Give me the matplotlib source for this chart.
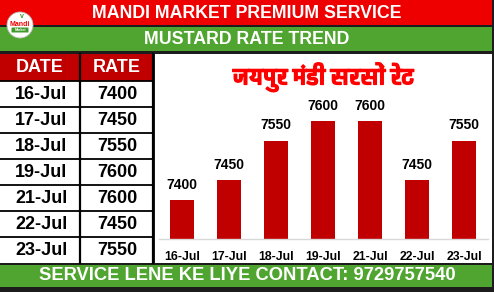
import matplotlib
matplotlib.use('Agg')
import matplotlib.pyplot as plt
from matplotlib import font_manager, ft2font
from matplotlib import patheffects
from matplotlib.patches import Rectangle, Circle, FancyBboxPatch

# data
dates = ['16-Jul', '17-Jul', '18-Jul', '19-Jul', '21-Jul', '22-Jul', '23-Jul']
rates = [7400, 7450, 7550, 7600, 7600, 7450, 7550]
title_top = 'MANDI MARKET PREMIUM SERVICE'
title_sub = 'MUSTARD RATE TREND'
chart_title = 'जयपुर मंडी सरसों रेट'
footer = 'SERVICE LENE KE LIYE CONTACT: 9729757540'

RED = '#EE0000'
DARK_RED = '#C00000'
GREEN = '#4FA52F'
W, H = 494, 292


def find_font(ch):
    # installed font with a glyph for ch, bold ones first
    found = []
    for f in font_manager.fontManager.ttflist:
        try:
            if ord(ch) in ft2font.FT2Font(f.fname).get_charmap():
                found.append(f)
        except Exception:
            pass
    if not found:
        return 'DejaVu Sans'
    found.sort(key=lambda f: -font_manager.weight_dict.get(f.weight, f.weight)
               if not isinstance(f.weight, int) else -f.weight)
    return found[0].name


hindi_font = find_font('ज')
plt.rcParams['font.family'] = ['Liberation Sans', 'DejaVu Sans']

fig = plt.figure(figsize=(W / 100, H / 100), dpi=100, facecolor='#1c1c1c')

# overlay in pixel coordinates
ov = fig.add_axes([0, 0, 1, 1], zorder=0)
ov.set_xlim(0, W)
ov.set_ylim(H, 0)
ov.axis('off')


def box(x0, y0, x1, y1, color):
    ov.add_patch(Rectangle((x0, y0), x1 - x0, y1 - y0, color=color, lw=0))


box(0, 0, 492, 25, RED)
box(0, 27, 492, 51, GREEN)
box(0, 54, 153, 263, 'white')
box(155, 54, 492, 263, 'white')
box(0, 265, 492, 287, GREEN)

ov.text(247, 13, title_top, color='white', fontsize=12.8, fontweight='bold',
        ha='center', va='center')
ov.text(247, 39.5, title_sub, color='white', fontsize=12.8, fontweight='bold',
        ha='center', va='center')
ov.text(247, 276, footer, color='white', fontsize=13.2, fontweight='bold',
        ha='center', va='center')

# logo
ov.add_patch(Circle((20, 25), 13, facecolor='white', edgecolor='#bbbbbb', lw=0.6))
ov.text(20, 24, 'Mandi', color=RED, fontsize=5, fontweight='bold', ha='center', va='center')
ov.add_patch(FancyBboxPatch((12, 28), 16, 4, boxstyle='round,pad=0.5', color='#3f9a2a', lw=0))
ov.text(20, 30, 'Market', color='white', fontsize=2.5, fontweight='bold', ha='center', va='center')
ov.text(22, 17, 'v', color='#3f9a2a', fontsize=5, fontweight='bold', ha='center', va='center')

# table
row_h = 26
head_top, head_bot = 54, 81
box(0, head_top, 79, head_bot, DARK_RED)
box(81, head_top, 152, head_bot, DARK_RED)
ov.text(40, 68, 'DATE', color='white', fontsize=13, fontweight='bold', ha='center', va='center')
ov.text(117, 68, 'RATE', color='white', fontsize=13, fontweight='bold', ha='center', va='center')
for i, (d, r) in enumerate(zip(dates, rates)):
    yc = head_bot + row_h * i + row_h / 2
    ov.text(41, yc + 0.5, d, color='black', fontsize=13, fontweight='bold', ha='center', va='center')
    ov.text(117, yc + 0.5, str(r), color='black', fontsize=13, fontweight='bold', ha='center', va='center')
    ov.plot([0, 153], [head_bot + row_h * i, head_bot + row_h * i], color='black', lw=1.3)
ov.plot([80, 80], [head_top, 263], color='black', lw=1.6)
ov.plot([153, 153], [head_top, 263], color='black', lw=1.6)

# bar chart
y0_px, px_per_unit = 239.4, 0.395
ymin, ymax = 7300, 7700
left = 158.5 / W
width = 329 / W
bottom = (H - y0_px) / H
height = (ymax - ymin) * px_per_unit / H
ax = fig.add_axes([left, bottom, width, height], zorder=1)
ax.patch.set_alpha(0)
x = range(len(dates))
bars = ax.bar(x, rates, width=0.51, color=DARK_RED)
ax.set_ylim(ymin, ymax)
ax.set_xlim(-0.5, len(dates) - 0.5)
ax.bar_label(bars, labels=[str(r) for r in rates], padding=6,
             fontsize=10, fontweight='bold', color='black')
ax.set_xticks(list(x))
ax.set_xticklabels(dates, fontsize=8.8, fontweight='bold')
ax.tick_params(axis='x', length=0, pad=8)
ax.set_yticks([])
for s in ['top', 'left', 'right']:
    ax.spines[s].set_visible(False)
ax.spines['bottom'].set_color('#d9d9d9')
ax.spines['bottom'].set_linewidth(1)

ov.text(323, 77, chart_title, color='#FF0000', fontsize=16.5, fontweight='bold',
        ha='center', va='center', family=[hindi_font, 'DejaVu Sans'],
        path_effects=[patheffects.withStroke(linewidth=0.9, foreground='#FF0000')])

fig.savefig('out.png', dpi=100, facecolor=fig.get_facecolor())
